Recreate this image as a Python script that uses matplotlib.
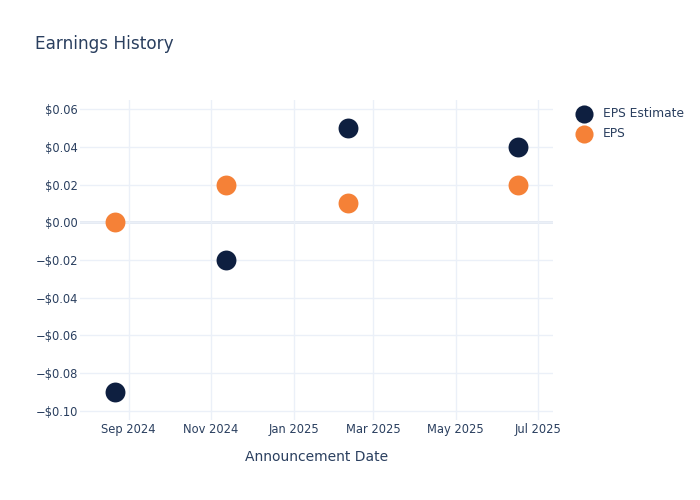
import numpy as np
import matplotlib
matplotlib.use("Agg")
import matplotlib.pyplot as plt
import matplotlib.dates as mdates
import matplotlib.ticker as mticker
import datetime as dt

# data
dates = [dt.date(2024, 8, 22), dt.date(2024, 11, 12), dt.date(2025, 2, 10), dt.date(2025, 6, 16)]
eps_estimate = [-0.09, -0.02, 0.05, 0.04]
eps_actual = [0.00, 0.02, 0.01, 0.02]

txt = "#2a3f5f"
grid = "#ebf0f8"

fig = plt.figure(figsize=(7, 5), dpi=100)
ax = fig.add_axes([80/700, 80/500, 473/700, 320/500])

ax.scatter(dates, eps_estimate, s=205, color="#0e1f40", label="EPS Estimate", zorder=3, linewidths=0)
ax.scatter(dates, eps_actual, s=205, color="#f58137", label="EPS", zorder=3, linewidths=0)

ax.set_xlim(dt.date(2024, 7, 27), dt.date(2025, 7, 12))
ax.set_ylim(-0.105, 0.0649)
ax.set_yticks(np.arange(-0.10, 0.061, 0.02))

def money(v, pos):
    v = round(v, 2)
    if v < 0:
        return "\u2212$%.2f" % abs(v)
    return "$%.2f" % abs(v)

ax.yaxis.set_major_formatter(mticker.FuncFormatter(money))
ax.xaxis.set_major_locator(mdates.MonthLocator(bymonth=[1, 3, 5, 7, 9, 11]))
ax.xaxis.set_major_formatter(mdates.DateFormatter("%b %Y"))

ax.grid(True, color=grid, linewidth=1, zorder=0)
ax.axhline(0, color="#e3e8f2", linewidth=2, zorder=1)
for s in ax.spines.values():
    s.set_visible(False)
ax.tick_params(length=0, colors=txt, labelsize=8.3)
ax.tick_params(axis="y", pad=1.5)
ax.tick_params(axis="x", pad=2.5)

ax.set_xlabel("Announcement Date", color=txt, fontsize=10, labelpad=9.5)
fig.text(35/700, 1 - 44/500, "Earnings History", color=txt, fontsize=12.2, va="center", ha="left")

leg = fig.legend(loc="upper left", bbox_to_anchor=(572/700, 1 - 107/500), frameon=False,
                 fontsize=8.8, labelcolor=txt, handletextpad=0.55, borderaxespad=0,
                 borderpad=0, labelspacing=0.55)
for h in leg.legend_handles:
    h.set_sizes([170])

fig.savefig("out.png", dpi=100)
